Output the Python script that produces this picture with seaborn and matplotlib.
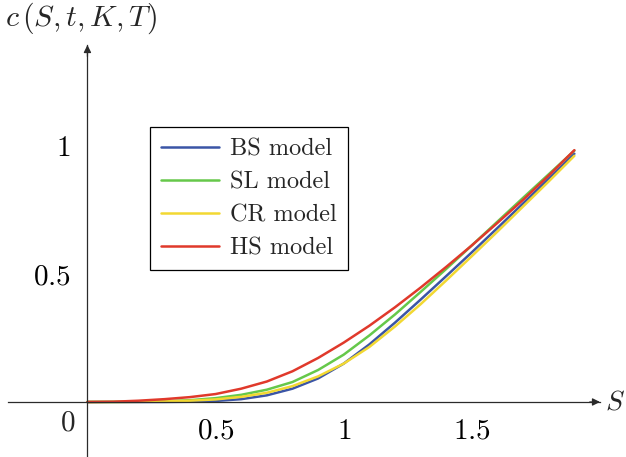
import numpy as np
import pandas as pd
import matplotlib
matplotlib.use("Agg")
import matplotlib.pyplot as plt
import seaborn as sns

# ---- data ----
S = [0.0, 0.1, 0.2, 0.3, 0.4, 0.5, 0.6, 0.7, 0.8, 0.9, 1.0,
     1.1, 1.2, 1.3, 1.4, 1.5, 1.6, 1.7, 1.8, 1.9]
bs_model = [0.0, 0.0, 0.0, 0.0002, 0.001, 0.004, 0.011, 0.026, 0.052, 0.092, 0.15,
            0.225, 0.31, 0.40, 0.492, 0.585, 0.68, 0.776, 0.873, 0.97]
sl_model = [0.0, 0.0002, 0.001, 0.003, 0.007, 0.015, 0.028, 0.048, 0.078, 0.125, 0.185,
            0.26, 0.342, 0.43, 0.52, 0.612, 0.705, 0.798, 0.89, 0.982]
cr_model = [0.0, 0.0, 0.0005, 0.002, 0.005, 0.010, 0.020, 0.036, 0.062, 0.10, 0.15,
            0.215, 0.295, 0.382, 0.475, 0.57, 0.666, 0.764, 0.862, 0.962]
hs_model = [0.0, 0.001, 0.005, 0.011, 0.019, 0.031, 0.052, 0.08, 0.12, 0.172, 0.232,
            0.298, 0.37, 0.447, 0.528, 0.612, 0.70, 0.79, 0.885, 0.984]
models = ["BS model", "SL model", "CR model", "HS model"]
colors = ["#3b55a6", "#66c84a", "#f2d832", "#e0392b"]
xticks = [0.5, 1, 1.5]
yticks = [0.5, 1]

df = pd.concat([
    pd.DataFrame({"S": S, "c": vals, "model": name})
    for name, vals in zip(models, [bs_model, sl_model, cr_model, hs_model])
])

sns.set_theme(style="white")
plt.rcParams["font.family"] = ["cmr10", "DejaVu Serif"]
plt.rcParams["mathtext.fontset"] = "cm"
plt.rcParams["axes.formatter.use_mathtext"] = True

W, H = 626, 457
fig = plt.figure(figsize=(W / 100, H / 100), dpi=100)
ax = fig.add_axes([8 / W, 0, 592 / W, 412 / H])

sns.lineplot(data=df, x="S", y="c", hue="model", hue_order=models,
             palette=colors, linewidth=1.8, ax=ax, legend=True)
for ln in ax.get_lines():
    ln.set_solid_joinstyle("round")

ax.set_xlim(-0.31, 2.0)
ax.set_ylim(-0.215, 1.395)

axis_col = "#2b2b2b"
for side in ["top", "right"]:
    ax.spines[side].set_visible(False)
for side in ["left", "bottom"]:
    ax.spines[side].set_position(("data", 0))
    ax.spines[side].set_color(axis_col)
    ax.spines[side].set_linewidth(0.9)

# arrow heads
ax.annotate("", xy=(2.0, 0), xytext=(1.96, 0),
            arrowprops=dict(arrowstyle="-|>", color=axis_col, lw=0.9,
                            mutation_scale=11, shrinkA=0, shrinkB=0))
ax.annotate("", xy=(0, 1.395), xytext=(0, 1.35),
            arrowprops=dict(arrowstyle="-|>", color=axis_col, lw=0.9,
                            mutation_scale=11, shrinkA=0, shrinkB=0))

ax.set_xticks(xticks)
ax.set_yticks(yticks)
ax.set_xticklabels([f"${t:g}$" for t in xticks])
ax.set_yticklabels([f"${t:g}$" for t in yticks])
ax.tick_params(axis="x", direction="inout", length=6, width=0.8, color="#808080",
               labelsize=21, pad=9, labelcolor="black")
ax.tick_params(axis="y", direction="inout", length=6, width=0.8, color="#808080",
               labelsize=21, pad=9, labelcolor="black")
ax.set_xlabel("")
ax.set_ylabel("")

ax.text(-0.078, -0.085, "$0$", ha="center", va="center", fontsize=21)
ax.text(2.06, 0.0, "$S$", ha="center", va="center", fontsize=20, clip_on=False)
fig.text(5 / W, 1 - 18 / H, r"$c\,(S,t,K,T)$", ha="left", va="center", fontsize=21.5)

leg = ax.legend(loc="upper left", bbox_to_anchor=(0.24, 0.801), borderaxespad=0,
                fontsize=17.5, frameon=True, fancybox=False, framealpha=1,
                edgecolor="black", handlelength=2.4, handletextpad=0.45,
                labelspacing=0.45, borderpad=0.45)
leg.get_frame().set_linewidth(0.9)
for line in leg.get_lines():
    line.set_linewidth(1.8)

fig.savefig("out.png", dpi=100)
